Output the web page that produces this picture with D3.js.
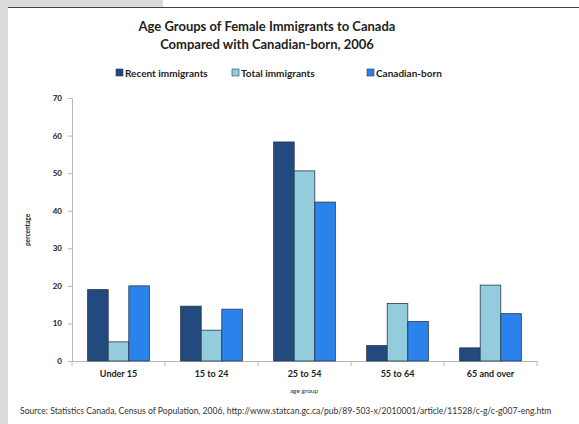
<!DOCTYPE html>
<html><head><meta charset="utf-8">
<script src="https://cdn.jsdelivr.net/npm/d3@7"></script>
<style>body{margin:0;padding:0;background:#fff}svg{display:block}</style>
</head><body>
<svg id="c" width="579" height="424"></svg>
<script>
const categories = ["Under 15", "15 to 24", "25 to 54", "55 to 64", "65 and over"];
const seriesNames = ["Recent immigrants", "Total immigrants", "Canadian-born"];
const recentImmigrants = [19.0, 14.6, 58.3, 4.1, 3.5];
const totalImmigrants = [5.1, 8.2, 50.6, 15.3, 20.2];
const canadianBorn = [20.0, 13.8, 42.3, 10.5, 12.6];
const yTicks = [0, 10, 20, 30, 40, 50, 60, 70];
const colors = ["#224a7e", "#93cddd", "#2a82ea"];

const svg = d3.select("#c");
const font = "Lato, 'Open Sans', sans-serif";

// background frame
svg.append("rect").attr("x",0).attr("y",0).attr("width",579).attr("height",424).attr("fill","#dcdcdc");
svg.append("rect").attr("x",8).attr("y",8).attr("width",571).attr("height",416).attr("fill","#fff");
svg.append("rect").attr("x",163).attr("y",0).attr("width",416).attr("height",8).attr("fill","#fff");
svg.append("line").attr("x1",8).attr("x2",579).attr("y1",7.5).attr("y2",7.5).attr("stroke","#444").attr("stroke-width",1.2);

// title
const title = svg.append("text").attr("x",267).attr("text-anchor","middle")
  .attr("font-family",font).attr("font-weight","bold").attr("font-size",13).attr("fill","#222");
title.append("tspan").attr("x",267).attr("y",31).text("Age Groups of Female Immigrants to Canada");
title.append("tspan").attr("x",267).attr("y",49).text("Compared with Canadian-born, 2006");

const x0 = d3.scaleBand().domain(categories).range([72, 537]).paddingInner(0).paddingOuter(0);
const x1 = d3.scaleBand().domain(seriesNames).range([0, x0.bandwidth()]).paddingInner(0).paddingOuter(0.76);
const y = d3.scaleLinear().domain([0,70]).range([361, 98]);

// y axis
const yAxis = d3.axisLeft(y).tickValues(yTicks).tickSize(4).tickPadding(6);
const gy = svg.append("g").attr("transform","translate(72,0)").call(yAxis);
gy.select(".domain").attr("stroke","#b8b8b8");
gy.selectAll(".tick line").attr("stroke","#b8b8b8");
gy.selectAll(".tick text").attr("font-family",font).attr("font-weight","bold").attr("font-size",8).attr("fill","#222");

// x axis
const xAxis = d3.axisBottom(x0).tickSize(0).tickPadding(10);
const gx = svg.append("g").attr("transform","translate(0,361)").call(xAxis);
gx.select(".domain").attr("stroke","#b8b8b8");
gx.selectAll(".tick text").attr("font-family",font).attr("font-weight","bold").attr("font-size",9).attr("fill","#222");
const bounds = categories.map(c => x0(c)).concat([x0.range()[1]]);
gx.selectAll(".sep").data(bounds).join("line").attr("class","sep")
  .attr("x1",d=>d).attr("x2",d=>d).attr("y1",0).attr("y2",5).attr("stroke","#b8b8b8");

// bars
const seriesData = [recentImmigrants, totalImmigrants, canadianBorn];
seriesNames.forEach((s, si) => {
  svg.append("g").selectAll("rect").data(categories).join("rect")
    .attr("x", (c) => x0(c) + x1(s))
    .attr("y", (c, i) => y(seriesData[si][i]))
    .attr("width", x1.bandwidth())
    .attr("height", (c, i) => y(0) - y(seriesData[si][i]))
    .attr("fill", colors[si])
    .attr("stroke", "#2b3a4a").attr("stroke-width", 0.8);
});

// axis titles
svg.append("text").attr("transform","translate(30,230) rotate(-90)").attr("text-anchor","middle")
  .attr("font-family",font).attr("font-weight","bold").attr("font-size",6.5).attr("fill","#222").text("percentage");
svg.append("text").attr("x",304).attr("y",393).attr("text-anchor","middle")
  .attr("font-family",font).attr("font-size",6.5).attr("fill","#333").text("age group");

// legend
const legendX = [116, 232, 367];
seriesNames.forEach((s, i) => {
  svg.append("rect").attr("x",legendX[i]).attr("y",69).attr("width",7).attr("height",7)
    .attr("fill",colors[i]).attr("stroke","#2b3a4a").attr("stroke-width",0.6);
  svg.append("text").attr("x",legendX[i]+9).attr("y",76.5)
    .attr("font-family",font).attr("font-weight","bold").attr("font-size",10).attr("fill","#222").text(s);
});

// source
svg.append("text").attr("x",20).attr("y",414)
  .attr("font-family",font).attr("font-size",8.6).attr("fill","#333")
  .text("Source:  Statistics Canada, Census of Population, 2006, http://www.statcan.gc.ca/pub/89-503-x/2010001/article/11528/c-g/c-g007-eng.htm");
</script>
</body></html>
